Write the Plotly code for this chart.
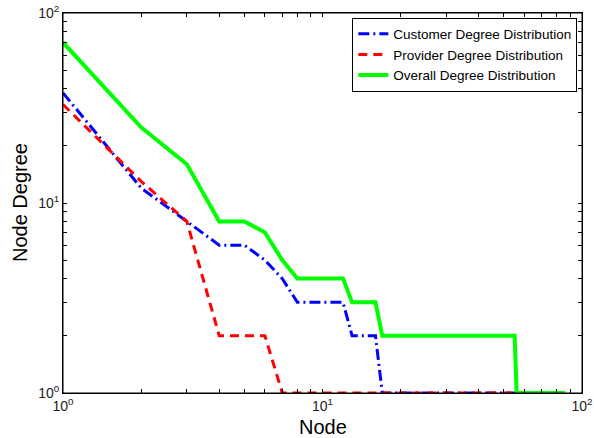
import plotly.graph_objects as go

# Vertices of each degree distribution (node rank, degree)
customer_x = [1, 2, 3, 4, 5, 6, 7, 8, 12, 13, 16, 17, 86]
customer_y = [38, 12, 8, 6, 6, 5, 4, 3, 3, 2, 2, 1, 1]

provider_x = [1, 2, 3, 4, 6, 7, 86]
provider_y = [33, 13, 8, 2, 2, 1, 1]

overall_x = [1, 2, 3, 4, 5, 6, 7, 8, 12, 13, 16, 17, 55, 56, 86]
overall_y = [70, 25, 16, 8, 8, 7, 5, 4, 4, 3, 3, 2, 2, 1, 1]

names = ["Customer Degree Distribution", "Provider Degree Distribution", "Overall Degree Distribution"]

tick_vals = [1, 2, 3, 4, 5, 6, 7, 8, 9, 10, 20, 30, 40, 50, 60, 70, 80, 90, 100]
tick_text = ["10<sup>0</sup>", "", "", "", "", "", "", "", "",
             "10<sup>1</sup>", "", "", "", "", "", "", "", "",
             "10<sup>2</sup>"]

FONT = "Liberation Sans, Arial, Helvetica, sans-serif"

fig = go.Figure()
fig.add_trace(go.Scatter(x=customer_x, y=customer_y, mode="lines", name=names[0],
                         line=dict(color="#0000ff", width=3, dash="11px,4px,2px,4px")))
fig.add_trace(go.Scatter(x=provider_x, y=provider_y, mode="lines", name=names[1],
                         line=dict(color="#ff0000", width=3, dash="9px,6px")))
fig.add_trace(go.Scatter(x=overall_x, y=overall_y, mode="lines", name=names[2],
                         line=dict(color="#00ff00", width=4)))

axis_common = dict(
    type="log", range=[0, 2], showgrid=False, zeroline=False, showline=True,
    linecolor="black", linewidth=1, mirror="allticks", ticks="inside",
    ticklen=4, tickcolor="black", tickwidth=1, tickmode="array",
    tickvals=tick_vals, ticktext=tick_text, automargin=False,
    ticklabeloverflow="allow",
    tickfont=dict(family=FONT, size=14, color="#222"),
)

fig.update_xaxes(**axis_common)
fig.update_yaxes(**axis_common)

fig.add_shape(type="rect", xref="paper", yref="paper", x0=0, y0=0, x1=1, y1=1,
              line=dict(color="black", width=1), fillcolor="rgba(0,0,0,0)", layer="above")

fig.add_annotation(text="Node", xref="paper", yref="paper", x=0.5, y=0,
                   yshift=-34, yanchor="middle", showarrow=False,
                   font=dict(family=FONT, size=20, color="black"))
fig.add_annotation(text="Node Degree", xref="paper", yref="paper", x=0, y=0.5,
                   xshift=-43, xanchor="center", textangle=-90, showarrow=False,
                   font=dict(family=FONT, size=20, color="black"))

fig.update_layout(
    width=594, height=438,
    margin=dict(l=63, r=12, t=13, b=45),
    plot_bgcolor="white", paper_bgcolor="white",
    font=dict(family=FONT, color="black"),
    legend=dict(x=0.991, y=0.988, xanchor="right", yanchor="top",
                bordercolor="black", borderwidth=1, bgcolor="white",
                font=dict(family=FONT, size=13.5, color="black"),
                tracegroupgap=0),
    showlegend=True,
)

fig.write_html(
    "out.html",
    config={"displayModeBar": False},
    post_script="document.body.style.margin='0';document.body.style.overflow='hidden';",
)
